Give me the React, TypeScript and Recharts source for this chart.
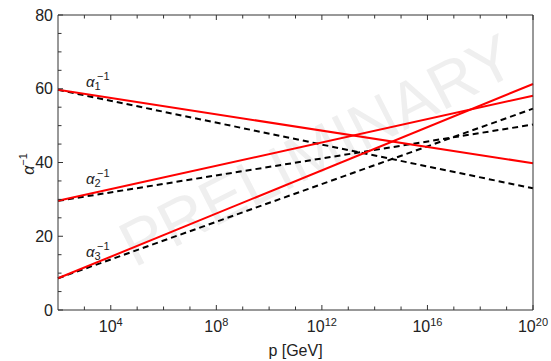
import React from "react";
import {
  LineChart,
  Line,
  XAxis,
  YAxis,
  ReferenceDot,
} from "recharts";

// log10(p / GeV) at the two ends of the plot
const logP = [2, 20];

// solid red
const alpha1Solid = [59.7, 39.8];
const alpha2Solid = [29.6, 58.1];
const alpha3Solid = [8.6, 61.3];

// dashed black
const alpha1Dashed = [59.7, 33.0];
const alpha2Dashed = [29.6, 50.3];
const alpha3Dashed = [8.6, 54.6];

const xTicks = [3, 4, 5, 6, 7, 8, 9, 10, 11, 12, 13, 14, 15, 16, 17, 18, 19, 20];
const xLabelled = [4, 8, 12, 16, 20];
const yTicks = [0, 5, 10, 15, 20, 25, 30, 35, 40, 45, 50, 55, 60, 65, 70, 75, 80];

// anchors for the curve names: [logP, value, index]
const curveLabels: [number, number, string][] = [
  [3.06, 60.4, "1"],
  [3.06, 34.3, "2"],
  [3.06, 14.4, "3"],
];

const data = logP.map((x, i) => ({
  logP: x,
  a1: alpha1Solid[i],
  a2: alpha2Solid[i],
  a3: alpha3Solid[i],
  a1d: alpha1Dashed[i],
  a2d: alpha2Dashed[i],
  a3d: alpha3Dashed[i],
}));

const FONT = "'Liberation Sans', Arial, sans-serif";
const TXT = "#222";

const BottomTick = (props: any) => {
  const { x, y, payload } = props;
  const v = payload.value;
  const major = xLabelled.includes(v);
  return (
    <g>
      <line x1={x} x2={x} y1={y} y2={y - (major ? 5 : 3.5)} stroke="#333" />
      {major && (
        <text x={x} y={y + 22} textAnchor="middle" fontFamily={FONT} fontSize={16} fill={TXT}>
          <tspan>10</tspan>
          <tspan dy={-6} fontSize={11}>{v}</tspan>
        </text>
      )}
    </g>
  );
};

const TopTick = (props: any) => {
  const { x, y, payload } = props;
  const major = xLabelled.includes(payload.value);
  return <line x1={x} x2={x} y1={y} y2={y + (major ? 5 : 3.5)} stroke="#333" />;
};

const LeftTick = (props: any) => {
  const { x, y, payload } = props;
  const v = payload.value;
  const major = v % 20 === 0;
  return (
    <g>
      <line x1={x} x2={x + (major ? 5 : 3.5)} y1={y} y2={y} stroke="#333" />
      {major && (
        <text x={x - 5} y={y + 5.5} textAnchor="end" fontFamily={FONT} fontSize={16} fill={TXT}>
          {v}
        </text>
      )}
    </g>
  );
};

const RightTick = (props: any) => {
  const { x, y, payload } = props;
  const major = payload.value % 20 === 0;
  return <line x1={x} x2={x - (major ? 5 : 3.5)} y1={y} y2={y} stroke="#333" />;
};

const AlphaName = ({ cx, cy, idx }: { cx: number; cy: number; idx: string }) => (
  <text x={cx} y={cy} fontFamily={FONT} fill={TXT} fontSize={15}>
    <tspan fontStyle="italic">α</tspan>
    <tspan dy={3} fontSize={11}>{idx}</tspan>
    <tspan x={cx + 11} dy={-10} fontSize={11}>−1</tspan>
  </text>
);

export default function App() {
  return (
    <div
      style={{
        position: "fixed",
        left: 0,
        top: 0,
        width: 551,
        height: 361,
        overflow: "hidden",
        background: "#fff",
      }}
    >
      <svg
        width={551}
        height={361}
        style={{ position: "absolute", left: 0, top: 0 }}
      >
        <text
          x={318}
          y={172}
          textAnchor="middle"
          fontFamily={FONT}
          fontSize={64}
          fill="#efefef"
          transform="rotate(-27 318 152)"
        >
          PRELIMINARY
        </text>
      </svg>
      <div style={{ position: "absolute", left: 0, top: 0 }}>
        <LineChart
          width={551}
          height={361}
          data={data}
          margin={{ top: 14, right: 17, bottom: 0, left: 0 }}
        >
          <XAxis
            xAxisId="bottom"
            dataKey="logP"
            type="number"
            domain={[2, 20]}
            ticks={xTicks}
            interval={0}
            tickSize={0}
            tickMargin={0}
            tick={BottomTick}
            stroke="#333"
            height={51}
            label={{
              value: "p [GeV]",
              position: "insideBottom",
              offset: 0,
              fontFamily: FONT,
              fontSize: 16,
              fill: TXT,
              dy: -5,
            }}
          />
          <XAxis
            xAxisId="top"
            orientation="top"
            dataKey="logP"
            type="number"
            domain={[2, 20]}
            ticks={xTicks}
            interval={0}
            tickSize={0}
            tickMargin={0}
            tick={TopTick}
            stroke="#333"
            height={1}
          />
          <YAxis
            yAxisId="left"
            type="number"
            domain={[0, 80]}
            ticks={yTicks}
            interval={0}
            tickSize={0}
            tickMargin={0}
            tick={LeftTick}
            stroke="#333"
            width={58}
            label={{
              content: () => (
                <text
                  x={34}
                  y={164}
                  transform="rotate(-90 34 164)"
                  textAnchor="middle"
                  fontFamily={FONT}
                  fill={TXT}
                >
                  <tspan fontSize={16} fontStyle="italic">α</tspan>
                  <tspan fontSize={11} dy={-7}>−1</tspan>
                </text>
              ),
            }}
          />
          <YAxis
            yAxisId="right"
            orientation="right"
            type="number"
            domain={[0, 80]}
            ticks={yTicks}
            interval={0}
            tickSize={0}
            tickMargin={0}
            tick={RightTick}
            stroke="#333"
            width={1}
          />
          <Line xAxisId="bottom" yAxisId="left" dataKey="a1d" stroke="#000" strokeWidth={2} strokeDasharray="6 4" dot={false} isAnimationActive={false} />
          <Line xAxisId="bottom" yAxisId="left" dataKey="a2d" stroke="#000" strokeWidth={2} strokeDasharray="6 4" dot={false} isAnimationActive={false} />
          <Line xAxisId="bottom" yAxisId="left" dataKey="a3d" stroke="#000" strokeWidth={2} strokeDasharray="6 4" dot={false} isAnimationActive={false} />
          <Line xAxisId="bottom" yAxisId="left" dataKey="a1" stroke="#ff0000" strokeWidth={2} dot={false} isAnimationActive={false} />
          <Line xAxisId="bottom" yAxisId="left" dataKey="a2" stroke="#ff0000" strokeWidth={2} dot={false} isAnimationActive={false} />
          <Line xAxisId="bottom" yAxisId="left" dataKey="a3" stroke="#ff0000" strokeWidth={2} dot={false} isAnimationActive={false} />
          {curveLabels.map(([x, y, idx]) => (
            <ReferenceDot
              key={idx}
              xAxisId="bottom"
              yAxisId="left"
              x={x}
              y={y}
              r={0}
              shape={(p: any) => <AlphaName cx={p.cx} cy={p.cy} idx={idx} />}
            />
          ))}
        </LineChart>
      </div>
    </div>
  );
}
